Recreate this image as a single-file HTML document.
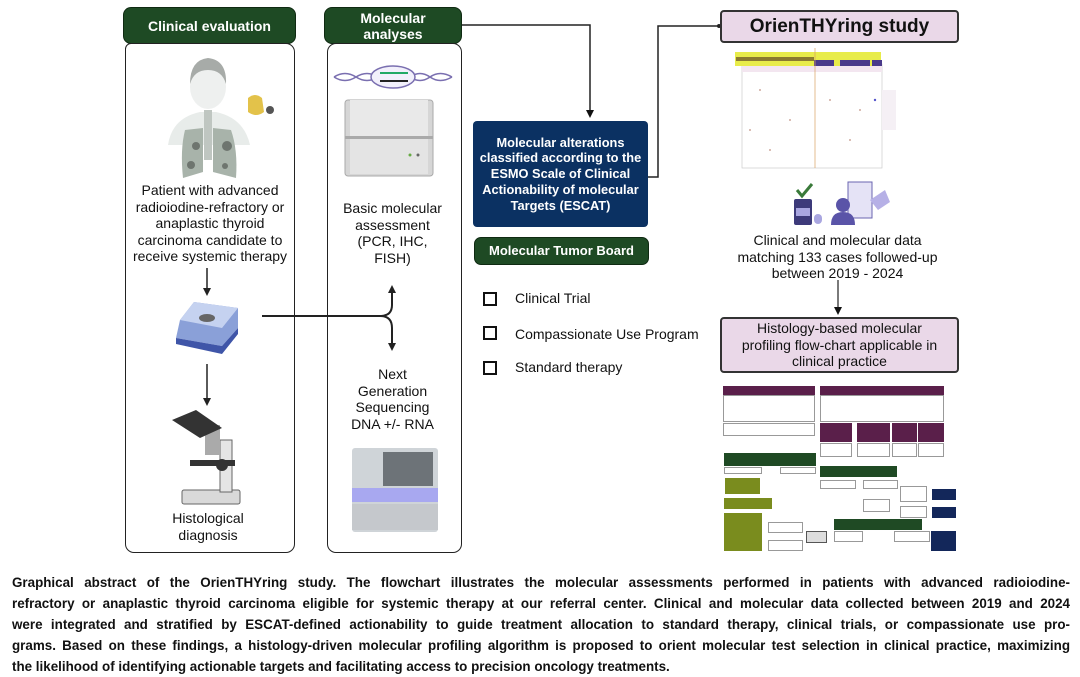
<!DOCTYPE html>
<html><head><meta charset="utf-8"><style>
*{margin:0;padding:0;box-sizing:border-box}
body{width:1080px;height:672px;background:#fff;position:relative;overflow:hidden;font-family:"Liberation Sans",Arial,sans-serif;color:#111}
.a{position:absolute}
.hdr{position:absolute;background:#1e4a24;color:#fff;font-weight:bold;border-radius:8px;border:1.5px solid #0f2a12;display:flex;align-items:center;justify-content:center;text-align:center;font-size:14px;line-height:16px}
.panel{position:absolute;border:1.5px solid #222;border-radius:9px;background:#fff}
.ct{position:absolute;text-align:center;font-size:14px;line-height:16.5px}
.pink{position:absolute;background:#ead8e8;border:2px solid #333;border-radius:4px;display:flex;align-items:center;justify-content:center;text-align:center}
.cb{position:absolute;width:14px;height:14px;border:2.5px solid #111}
.cl{position:absolute;font-size:14px}
.cap{position:absolute;left:12px;width:1058px;font-size:13.4px;font-weight:bold;color:#111;line-height:21px;text-align:justify;text-align-last:justify;white-space:nowrap}
.m{position:absolute;border:1px solid #999;background:#fff}
</style></head><body>

<svg class="a" style="left:0;top:0" width="1080" height="560">
<defs><marker id="ar" markerWidth="8" markerHeight="8" refX="6" refY="4" orient="auto" markerUnits="userSpaceOnUse"><path d="M0,0 L8,4 L0,8z" fill="#111"/></marker></defs>
<polyline points="461,25 590,25 590,116" fill="none" stroke="#222" stroke-width="1.5" marker-end="url(#ar)"/>
<polyline points="648,177 658,177 658,26 718,26" fill="none" stroke="#222" stroke-width="1.5"/>
<circle cx="719" cy="26" r="2" fill="#222"/>
<line x1="838" y1="280" x2="838" y2="313" stroke="#222" stroke-width="1.2" marker-end="url(#ar)"/>
<!-- heatmap -->
<rect x="742" y="64" width="140" height="104" fill="#fff" stroke="#ccc" stroke-width="0.7"/>
<rect x="742" y="64" width="140" height="8" fill="#f3e6f0"/>
<rect x="735" y="52" width="146" height="14" fill="#e8ec4a"/>
<rect x="736" y="57" width="78" height="4" fill="#8a7a30"/>
<rect x="814" y="60" width="20" height="6" fill="#4a3a8a"/>
<rect x="840" y="60" width="30" height="6" fill="#4a3a8a"/>
<rect x="872" y="60" width="10" height="6" fill="#4a3a8a"/>
<line x1="815" y1="48" x2="815" y2="168" stroke="#d8a060" stroke-width="0.7"/>
<g fill="#c09080"><circle cx="760" cy="90" r="0.9"/><circle cx="790" cy="120" r="0.9"/><circle cx="830" cy="100" r="0.9"/><circle cx="850" cy="140" r="0.9"/><circle cx="770" cy="150" r="0.9"/><circle cx="860" cy="110" r="0.9"/><circle cx="750" cy="130" r="0.9"/><circle cx="875" cy="100" r="1.2" fill="#55c"/></g>
<rect x="882" y="90" width="14" height="40" fill="#f5f0f5"/>
<!-- icons -->
<path d="M797,190 L802,196 L812,184" fill="none" stroke="#3a7a3a" stroke-width="3"/>
<rect x="794" y="199" width="18" height="26" rx="2" fill="#3d3a7a"/>
<rect x="796" y="208" width="14" height="8" fill="#a9a6e0"/>
<rect x="814" y="214" width="8" height="10" rx="4" fill="#a9a6e0"/>
<rect x="848" y="182" width="24" height="36" fill="#e5e3f6" stroke="#6a64b0"/>
<circle cx="843" cy="205" r="7" fill="#5a54a8"/>
<path d="M831,225 Q831,212 843,212 Q855,212 855,225Z" fill="#5a54a8"/>
<path d="M870,200 L885,190 L890,202 L878,210Z" fill="#b6b0e6"/>
</svg>

<div class="hdr" style="left:123px;top:7px;width:173px;height:37px">Clinical evaluation</div>
<div class="panel" style="left:125px;top:43px;width:170px;height:510px;border-top-left-radius:6px"></div>
<div class="hdr" style="left:324px;top:7px;width:138px;height:37px">Molecular<br>analyses</div>
<div class="panel" style="left:327px;top:43px;width:135px;height:510px"></div>
<svg class="a" style="left:0;top:0;pointer-events:none" width="480" height="560">
<path d="M168,145 Q172,118 200,112 L216,112 Q244,118 250,145 Z" fill="#e8ecea"/>
<path d="M185,130 Q180,150 183,178 L203,172 L203,128 Z" fill="#a8b3aa"/>
<path d="M231,130 Q238,150 236,178 L213,172 L213,128 Z" fill="#a8b3aa"/>
<rect x="204" y="110" width="8" height="50" fill="#bfc6c1"/>
<circle cx="196" cy="146" r="4" fill="#6e756f"/><circle cx="227" cy="146" r="5" fill="#6e756f"/>
<circle cx="191" cy="165" r="4" fill="#6e756f"/><circle cx="225" cy="166" r="3" fill="#6e756f"/>
<ellipse cx="208" cy="87" rx="18" ry="22" fill="#eef0ef"/>
<path d="M190,84 Q190,60 208,58 Q227,60 226,84 Q222,70 208,70 Q194,70 190,84Z" fill="#a7aba8"/>
<path d="M248,98 Q255,92 262,98 L264,112 Q256,118 248,112Z" fill="#e3c24a"/>
<circle cx="270" cy="110" r="4" fill="#555"/>
<path d="M334,77 Q345,70 356,77 T378,77" fill="none" stroke="#7a6fb0" stroke-width="1.5"/>
<path d="M334,77 Q345,84 356,77 T378,77" fill="none" stroke="#7a6fb0" stroke-width="1.5"/>
<path d="M410,77 Q420,70 430,77 T452,77" fill="none" stroke="#7a6fb0" stroke-width="1.5"/>
<path d="M410,77 Q420,84 430,77 T452,77" fill="none" stroke="#7a6fb0" stroke-width="1.5"/>
<ellipse cx="393" cy="77" rx="22" ry="11" fill="#f2f0fb" stroke="#7a6fb0" stroke-width="1.5"/>
<line x1="380" y1="73" x2="408" y2="73" stroke="#2a6" stroke-width="2"/><line x1="380" y1="81" x2="408" y2="81" stroke="#222" stroke-width="2"/>
<rect x="345" y="100" width="88" height="76" rx="3" fill="#d6d6d6" stroke="#aaa"/>
<rect x="350" y="100" width="78" height="36" fill="#e9e9e9"/>
<rect x="350" y="139" width="78" height="35" fill="#e4e4e4"/>
<rect x="345" y="136" width="88" height="3" fill="#aaa"/>
<circle cx="410" cy="155" r="1.5" fill="#6a4"/><circle cx="418" cy="155" r="1.5" fill="#666"/>
<line x1="207" y1="268" x2="207" y2="290" stroke="#222" stroke-width="1.5"/><path d="M203,288 L207,296 L211,288Z" fill="#222"/>
<path d="M180,320 L194,302 L238,308 L238,328 L222,346 L176,338 Z" fill="#8aa0d8"/>
<path d="M180,320 L194,302 L238,308 L222,328 Z" fill="#c5d2f0"/>
<ellipse cx="207" cy="318" rx="8" ry="4" fill="#666"/>
<path d="M176,338 L222,346 L238,328 L238,334 L222,354 L176,344Z" fill="#3f55a8"/>
<line x1="207" y1="364" x2="207" y2="400" stroke="#222" stroke-width="1.5"/><path d="M203,398 L207,406 L211,398Z" fill="#222"/>
<line x1="262" y1="316" x2="380" y2="316" stroke="#222" stroke-width="2"/>
<path d="M380,316 Q392,316 392,305 L392,292" fill="none" stroke="#222" stroke-width="2"/><path d="M388,293 L392,285 L396,293Z" fill="#222"/>
<path d="M380,316 Q392,316 392,328 L392,344" fill="none" stroke="#222" stroke-width="2"/><path d="M388,343 L392,351 L396,343Z" fill="#222"/>
<rect x="182" y="490" width="58" height="14" rx="2" fill="#d9d9d9" stroke="#666"/>
<rect x="220" y="440" width="12" height="52" fill="#e5e5e5" stroke="#666"/>
<rect x="190" y="460" width="45" height="6" fill="#333"/>
<rect x="205" y="425" width="15" height="30" fill="#aaa"/>
<path d="M172,420 L196,410 L222,428 L200,438Z" fill="#333"/>
<circle cx="222" cy="465" r="6" fill="#333"/>
<rect x="352" y="448" width="86" height="84" rx="3" fill="#cfd4d8"/>
<rect x="383" y="452" width="50" height="34" fill="#6d7378"/>
<rect x="352" y="488" width="86" height="14" fill="#a8a8f0"/>
<rect x="352" y="504" width="86" height="26" fill="#c5c8cc"/>
</svg>

<div class="ct" style="left:128px;top:182px;width:164px">Patient with advanced radioiodine-refractory or anaplastic thyroid carcinoma candidate to receive systemic therapy</div>
<div class="ct" style="left:140px;top:510px;width:136px">Histological<br>diagnosis</div>
<div class="ct" style="left:330px;top:200px;width:125px">Basic molecular<br>assessment<br>(PCR, IHC,<br>FISH)</div>
<div class="ct" style="left:330px;top:366px;width:125px">Next<br>Generation<br>Sequencing<br>DNA +/- RNA</div>

<div class="a" style="left:473px;top:121px;width:175px;height:106px;background:#0b3162;border-radius:4px;color:#fff;font-weight:bold;font-size:12.8px;line-height:15.8px;text-align:center;display:flex;align-items:center;justify-content:center">Molecular alterations<br>classified according to the<br>ESMO Scale of Clinical<br>Actionability of molecular<br>Targets (ESCAT)</div>
<div class="hdr" style="left:474px;top:237px;width:175px;height:28px;font-size:13px;border-radius:7px">Molecular Tumor Board</div>
<div class="cb" style="left:483px;top:292px"></div><div class="cl" style="left:515px;top:290px">Clinical Trial</div>
<div class="cb" style="left:483px;top:326px"></div><div class="cl" style="left:515px;top:326px">Compassionate Use Program</div>
<div class="cb" style="left:483px;top:361px"></div><div class="cl" style="left:515px;top:359px">Standard therapy</div>

<div class="pink" style="left:720px;top:10px;width:239px;height:33px;font-weight:bold;font-size:19px">OrienTHYring study</div>
<div class="ct" style="left:730px;top:232px;width:215px">Clinical and molecular data<br>matching 133 cases followed-up<br>between 2019 - 2024</div>
<div class="pink" style="left:720px;top:317px;width:239px;height:56px;font-size:14px;line-height:16.5px">Histology-based molecular<br>profiling flow-chart applicable in<br>clinical practice</div>

<div class="a" style="left:723px;top:386px;width:92px;height:9px;background:#5a1f4a"></div>
<div class="m" style="left:723px;top:395px;width:92px;height:27px"></div>
<div class="m" style="left:723px;top:423px;width:92px;height:13px"></div>
<div class="a" style="left:820px;top:386px;width:124px;height:9px;background:#5a1f4a"></div>
<div class="m" style="left:820px;top:395px;width:124px;height:27px"></div>
<div class="a" style="left:820px;top:423px;width:32px;height:19px;background:#5a1f4a"></div>
<div class="a" style="left:857px;top:423px;width:33px;height:19px;background:#5a1f4a"></div>
<div class="a" style="left:892px;top:423px;width:25px;height:19px;background:#5a1f4a"></div>
<div class="a" style="left:918px;top:423px;width:26px;height:19px;background:#5a1f4a"></div>
<div class="m" style="left:820px;top:443px;width:32px;height:14px"></div>
<div class="m" style="left:857px;top:443px;width:33px;height:14px"></div>
<div class="m" style="left:892px;top:443px;width:25px;height:14px"></div>
<div class="m" style="left:918px;top:443px;width:26px;height:14px"></div>
<div class="a" style="left:724px;top:453px;width:92px;height:13px;background:#1f4a24"></div>
<div class="m" style="left:724px;top:467px;width:38px;height:7px"></div>
<div class="m" style="left:780px;top:467px;width:36px;height:7px"></div>
<div class="a" style="left:725px;top:478px;width:35px;height:16px;background:#7a8c1e"></div>
<div class="a" style="left:820px;top:466px;width:77px;height:11px;background:#1f4a24"></div>
<div class="m" style="left:820px;top:480px;width:36px;height:9px"></div>
<div class="m" style="left:863px;top:480px;width:35px;height:9px"></div>
<div class="a" style="left:724px;top:498px;width:48px;height:11px;background:#7a8c1e"></div>
<div class="m" style="left:900px;top:486px;width:27px;height:16px"></div>
<div class="a" style="left:932px;top:489px;width:24px;height:11px;background:#13275a"></div>
<div class="m" style="left:863px;top:499px;width:27px;height:13px"></div>
<div class="m" style="left:900px;top:506px;width:27px;height:12px"></div>
<div class="a" style="left:932px;top:507px;width:24px;height:11px;background:#13275a"></div>
<div class="a" style="left:834px;top:519px;width:88px;height:11px;background:#1f4a24"></div>
<div class="a" style="left:724px;top:513px;width:38px;height:38px;background:#7a8c1e"></div>
<div class="m" style="left:768px;top:522px;width:35px;height:11px"></div>
<div class="m" style="left:768px;top:540px;width:35px;height:11px"></div>
<div class="a" style="left:806px;top:531px;width:21px;height:12px;background:#ddd;border:1px solid #555"></div>
<div class="m" style="left:834px;top:531px;width:29px;height:11px"></div>
<div class="m" style="left:894px;top:531px;width:36px;height:11px"></div>
<div class="a" style="left:931px;top:531px;width:25px;height:20px;background:#13275a"></div>

<div class="cap" style="top:572px">Graphical abstract of the OrienTHYring study. The flowchart illustrates the molecular assessments performed in patients with advanced radioiodine-</div>
<div class="cap" style="top:593px">refractory or anaplastic thyroid carcinoma eligible for systemic therapy at our referral center. Clinical and molecular data collected between 2019 and 2024</div>
<div class="cap" style="top:614px">were integrated and stratified by ESCAT-defined actionability to guide treatment allocation to standard therapy, clinical trials, or compassionate use pro-</div>
<div class="cap" style="top:635px">grams. Based on these findings, a histology-driven molecular profiling algorithm is proposed to orient molecular test selection in clinical practice, maximizing</div>
<div class="cap" style="top:656px;text-align-last:left">the likelihood of identifying actionable targets and facilitating access to precision oncology treatments.</div>
</body></html>
